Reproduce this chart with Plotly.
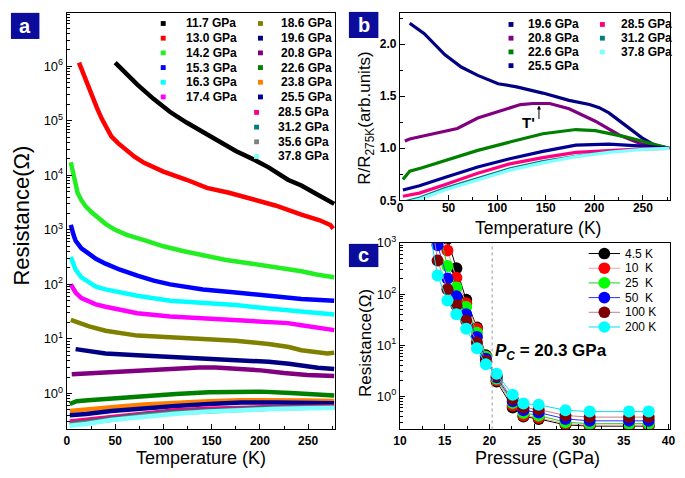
import plotly.graph_objects as go

W, H = 685, 478
FONT = "Liberation Sans"

# ---------------- panel a : R(T) at each pressure (Ohm) ----------------
t_117 = [50, 60, 73, 90, 107, 124, 145, 159, 175, 195, 209, 229, 243, 260, 277]
r_117 = [1.17e6, 7.8e5, 4.6e5, 2.5e5, 1.45e5, 9.3e4, 5.6e4, 4.2e4, 2.8e4, 1.9e4, 1.4e4, 8.3e3, 6.5e3, 4.4e3, 3.0e3]
t_130 = [12.5, 15, 17.6, 21, 26, 31, 36, 41, 46, 53, 60, 70, 80, 100, 124, 145, 168, 192, 216, 243, 262, 273, 276]
r_130 = [1.17e6, 9.0e5, 7.3e5, 4.6e5, 2.8e5, 1.75e5, 1.1e5, 7.4e4, 5.2e4, 3.9e4, 3.0e4, 2.2e4, 1.7e4,
         1.17e4, 8.3e3, 5.9e3, 4.8e3, 3.7e3, 2.8e3, 1.9e3, 1.5e3, 1.23e3, 1.05e3]
t_142 = [4, 5.5, 7.5, 9, 11, 15, 19, 25, 33, 40, 50, 62, 80, 100, 120, 141, 165, 192, 215, 243, 260, 277]
r_142 = [1.74e4, 1.26e4, 9.5e3, 6.6e3, 4.8e3, 3.5e3, 2.75e3, 2.15e3, 1.62e3, 1.29e3, 1.0e3, 810, 650,
         500, 410, 340, 280, 240, 210, 174, 150, 135]
t_153 = [4, 5, 7, 9, 15, 23, 30, 40, 55, 73, 90, 107, 141, 175, 209, 243, 277]
r_153 = [1230, 1000, 794, 631, 457, 363, 295, 240, 186, 145, 117, 100, 81, 71, 62, 54, 50]
t_163 = [4, 6, 9, 15, 23, 30, 40, 55, 73, 107, 141, 175, 209, 243, 277]
r_163 = [316, 240, 186, 135, 107, 91, 81, 71, 62, 50, 45, 42, 36, 32, 28]
t_174 = [4, 6, 9, 15, 23, 30, 40, 55, 73, 107, 141, 175, 209, 229, 243, 260, 277]
r_174 = [100, 85, 71, 56, 48, 43, 39, 34, 29.5, 25.7, 24, 22.4, 20.9, 19.5, 17.8, 16.2, 14.5]
t_186 = [4, 10, 23, 40, 55, 73, 107, 141, 175, 209, 230, 243, 260, 270, 277]
r_186 = [22.4, 20.4, 17.0, 14.1, 12.6, 11.5, 10.7, 10.0, 9.3, 8.1, 7.1, 6.2, 5.6, 5.4, 5.6]
t_196 = [9, 40, 73, 107, 141, 175, 209, 230, 243, 260, 277]
r_196 = [6.5, 5.4, 5.0, 4.7, 4.5, 4.2, 3.8, 3.5, 3.2, 2.95, 2.8]
t_208 = [5, 25, 59, 80, 103, 124, 137, 154, 174, 201, 225, 249, 277]
r_208 = [2.25, 2.35, 2.5, 2.71, 2.86, 2.98, 3.0, 3.0, 2.9, 2.65, 2.37, 2.18, 2.1]
t_226 = [3, 10, 22, 46, 80, 113, 147, 181, 201, 232, 262, 277]
r_226 = [0.64, 0.72, 0.75, 0.81, 0.90, 0.975, 1.05, 1.085, 1.08, 1.02, 0.96, 0.92]
t_low = [3, 20, 46, 80, 113, 147, 181, 215, 250, 277]
r_238 = [0.475, 0.50, 0.56, 0.63, 0.68, 0.72, 0.75, 0.76, 0.745, 0.73]
r_255 = [0.40, 0.42, 0.475, 0.54, 0.59, 0.64, 0.68, 0.685, 0.67, 0.66]
r_285 = [0.305, 0.33, 0.375, 0.44, 0.49, 0.525, 0.55, 0.565, 0.57, 0.575]
r_312 = [0.275, 0.30, 0.35, 0.405, 0.455, 0.49, 0.52, 0.545, 0.555, 0.56]
r_356 = [0.265, 0.29, 0.335, 0.39, 0.44, 0.475, 0.51, 0.53, 0.545, 0.55]
r_378 = [0.255, 0.275, 0.325, 0.38, 0.425, 0.465, 0.495, 0.52, 0.535, 0.54]

a_series = [
    ("11.7 GPa", "#000000", t_117, r_117),
    ("13.0 GPa", "#ff0000", t_130, r_130),
    ("14.2 GPa", "#22ee22", t_142, r_142),
    ("15.3 GPa", "#0000ff", t_153, r_153),
    ("16.3 GPa", "#00ffff", t_163, r_163),
    ("17.4 GPa", "#ff00ff", t_174, r_174),
    ("18.6 GPa", "#808000", t_186, r_186),
    ("19.6 GPa", "#000080", t_196, r_196),
    ("20.8 GPa", "#800080", t_208, r_208),
    ("22.6 GPa", "#008000", t_226, r_226),
    ("23.8 GPa", "#ff8000", t_low, r_238),
    ("25.5 GPa", "#000090", t_low, r_255),
    ("28.5 GPa", "#ff0080", t_low, r_285),
    ("31.2 GPa", "#008080", t_low, r_312),
    ("35.6 GPa", "#808080", t_low, r_356),
    ("37.8 GPa", "#80ffff", t_low, r_378),
]

# ---------------- panel b : R / R(275 K) ----------------
tb_196 = [10, 25, 46, 63, 80, 101, 120, 147, 174, 195, 205, 215, 232, 249, 262, 277]
nb_196 = [2.2, 2.1, 1.9, 1.78, 1.70, 1.62, 1.59, 1.53, 1.46, 1.42, 1.39, 1.34, 1.22, 1.10, 1.03, 1.0]
tb_208 = [5, 10, 25, 45, 59, 80, 103, 124, 137, 154, 174, 201, 225, 249, 265, 277]
nb_208 = [1.07, 1.09, 1.12, 1.16, 1.19, 1.29, 1.36, 1.42, 1.43, 1.43, 1.38, 1.26, 1.13, 1.04, 1.01, 1.0]
tb_226 = [3, 10, 22, 46, 80, 113, 147, 181, 201, 232, 262, 277]
nb_226 = [0.70, 0.78, 0.81, 0.88, 0.98, 1.06, 1.14, 1.18, 1.17, 1.11, 1.04, 1.0]
tb_low = [3, 20, 46, 80, 113, 147, 181, 215, 250, 277]
nb_255 = [0.60, 0.64, 0.72, 0.82, 0.90, 0.97, 1.03, 1.04, 1.02, 1.0]
nb_285 = [0.54, 0.57, 0.65, 0.76, 0.85, 0.91, 0.96, 0.98, 0.995, 1.0]
nb_312 = [0.49, 0.53, 0.62, 0.72, 0.81, 0.88, 0.93, 0.97, 0.99, 1.0]
nb_378 = [0.47, 0.51, 0.60, 0.70, 0.79, 0.86, 0.92, 0.96, 0.99, 1.0]

b_series = [
    ("19.6 GPa", "#000080", tb_196, nb_196),
    ("20.8 GPa", "#800080", tb_208, nb_208),
    ("22.6 GPa", "#008000", tb_226, nb_226),
    ("25.5 GPa", "#000090", tb_low, nb_255),
    ("28.5 GPa", "#ff0080", tb_low, nb_285),
    ("31.2 GPa", "#008080", tb_low, nb_312),
    ("37.8 GPa", "#80ffff", tb_low, nb_378),
]

# ---------------- panel c : R(P) at fixed temperatures ----------------
pressure = [11.7, 13.0, 14.2, 15.3, 16.3, 17.4, 18.6, 19.6, 20.8, 22.6, 23.8, 25.5, 28.5, 31.2, 35.6, 37.8]
rc_4k = [None, None, 1.7e4, 1.2e3, 320, 77, 22, 6.3, 1.95, 0.60, 0.40, 0.36, 0.275, 0.26, 0.26, 0.26]
rc_10k = [None, None, 5.5e3, 710, 207, 66, 21, 6.0, 2.05, 0.66, 0.42, 0.38, 0.29, 0.27, 0.27, 0.27]
rc_25k = [None, 2.9e5, 2.1e3, 355, 134, 56, 17.5, 5.9, 2.2, 0.74, 0.47, 0.42, 0.31, 0.29, 0.29, 0.29]
rc_50k = [1.2e6, 5.3e4, 900, 200, 90, 40, 14.4, 5.4, 2.35, 0.80, 0.53, 0.48, 0.36, 0.33, 0.33, 0.33]
rc_100k = [1.3e5, 1.15e4, 450, 124, 60, 30, 11.3, 4.9, 2.5, 0.88, 0.60, 0.55, 0.42, 0.39, 0.39, 0.39]
rc_200k = [1.8e4, 3.5e3, 230, 75, 40, 21, 8.7, 4.2, 2.75, 1.07, 0.72, 0.68, 0.53, 0.50, 0.50, 0.50]
p_critical = 20.3

c_series = [
    ("4.5 K", "#000000", "#000000", rc_4k),
    ("10\u00a0\u00a0K", "#ff0000", "#f4a0a0", rc_10k),
    ("25\u00a0\u00a0K", "#00ff00", "#22cc22", rc_25k),
    ("50\u00a0\u00a0K", "#0000ff", "#3030ff", rc_50k),
    ("100 K", "#800000", "#c08090", rc_100k),
    ("200 K", "#00ffff", "#00e0f0", rc_200k),
]


def px(x):
    return x / W


def py(y):
    return 1 - y / H


fig = go.Figure()

for name, col, t, r in a_series:
    fig.add_trace(go.Scatter(x=t, y=r, mode="lines", line=dict(color=col, width=4.5),
                             xaxis="x", yaxis="y", name=name))

for name, col, t, r in b_series:
    w = 1.6 if name == "31.2 GPa" else 3.2
    fig.add_trace(go.Scatter(x=t, y=r, mode="lines", line=dict(color=col, width=w),
                             xaxis="x2", yaxis="y2", name=name))

for name, mcol, lcol, r in c_series:
    fig.add_trace(go.Scatter(x=pressure, y=r, mode="lines+markers",
                             line=dict(color=lcol, width=1),
                             marker=dict(color=mcol, size=12, line=dict(width=0)),
                             xaxis="x3", yaxis="y3", name=name))

tick_bold = dict(family=FONT, size=12, color="black", weight="bold")
tick_pow = dict(family=FONT, size=13, color="black")
ax_common = dict(showline=True, linecolor="black", linewidth=1.3, mirror=True,
                 ticks="inside", ticklen=5, tickwidth=1.2, tickcolor="black",
                 showgrid=False, zeroline=False)

decades_a = [1, 10, 100, 1e3, 1e4, 1e5, 1e6]
decades_c = [1, 10, 100, 1e3]

fig.update_layout(
    width=W, height=H, margin=dict(l=0, r=0, t=0, b=0),
    paper_bgcolor="white", plot_bgcolor="white", showlegend=False,
    xaxis=dict(domain=[px(61), px(334)], range=[0, 278], anchor="y",
               tickvals=[0, 50, 100, 150, 200, 250], tickfont=tick_bold,
               minor=dict(dtick=25, ticks="inside", ticklen=3, tickcolor="black"), **ax_common),
    yaxis=dict(domain=[py(435), py(4)], type="log", range=[-0.66, 6.98], anchor="x",
               tickvals=decades_a, ticktext=["10<sup>%d</sup>" % i for i in range(7)],
               tickfont=tick_pow,
               minor=dict(dtick="D1", ticks="inside", ticklen=3, tickcolor="black"), **ax_common),
    xaxis2=dict(domain=[px(400), px(675)], range=[0, 278], anchor="y2",
                tickvals=[0, 50, 100, 150, 200, 250], tickfont=tick_bold, ticklabelstandoff=-4,
                minor=dict(dtick=25, ticks="inside", ticklen=3, tickcolor="black"), **ax_common),
    yaxis2=dict(domain=[py(198), py(4)], range=[0.5, 2.3], anchor="x2",
                tickvals=[0.5, 1.0, 1.5, 2.0], ticktext=["0.5", "1.0", "1.5", "2.0"],
                tickfont=tick_bold,
                minor=dict(dtick=0.25, ticks="inside", ticklen=3, tickcolor="black"), **ax_common),
    xaxis3=dict(domain=[px(400), px(675)], range=[10, 40.2], anchor="y3",
                tickvals=[10, 15, 20, 25, 30, 35, 40], tickfont=tick_bold,
                minor=dict(dtick=2.5, ticks="inside", ticklen=3, tickcolor="black"), **ax_common),
    yaxis3=dict(domain=[py(435), py(242)], type="log", range=[-0.65, 3.0], anchor="x3",
                tickvals=decades_c, ticktext=["10<sup>%d</sup>" % i for i in range(4)],
                tickfont=tick_pow,
                minor=dict(dtick="D1", ticks="inside", ticklen=3, tickcolor="black"), **ax_common),
)

shapes = []
ann = []

# panel letters
for letter, (x0, y0, x1, y1) in zip("abc", [(4, 4, 33, 31), (348, 3, 378, 30), (348, 243, 378, 267)]):
    shapes.append(dict(type="rect", xref="paper", yref="paper", x0=px(x0), x1=px(x1),
                       y0=py(y1), y1=py(y0), fillcolor="#0c0c9c", line=dict(width=0), layer="above"))
    ann.append(dict(text="<b>%s</b>" % letter, xref="paper", yref="paper", x=px((x0 + x1) / 2),
                    y=py((y0 + y1) / 2), xanchor="center", yanchor="middle", showarrow=False,
                    font=dict(family=FONT, size=20, color="white")))

# axis titles
titles = [
    ("Resistance(\u03a9)", 15, 214, -90, 22),
    ("Temperature (K)", 197, 465, 0, 18),
    ("R/R<sub>275K</sub>(arb.units)", 366, 113, -90, 17),
    ("Temperature (K)", 540, 227, 0, 17.5),
    ("Resistance(\u03a9)", 365, 346, -90, 17),
    ("Pressure (GPa)", 540, 465, 0, 18),
]
for txt, x, y, ang, sz in titles:
    ann.append(dict(text=txt, xref="paper", yref="paper", x=px(x), y=py(y), textangle=ang,
                    xanchor="center", yanchor="middle", showarrow=False,
                    font=dict(family=FONT, size=sz, color="black")))

# legend panel a (three blocks)
leg_font = dict(family=FONT, size=12, color="black", weight="bold")
a_blocks = [(a_series[0:6], 159, 180, 15), (a_series[6:12], 258, 277, 15), (a_series[12:16], 254, 274, 107)]
for block, xs, xt, y0 in a_blocks:
    for i, (name, col, _, _) in enumerate(block):
        y = y0 + 15.2 * i
        shapes.append(dict(type="rect", xref="paper", yref="paper", x0=px(xs - 2.5), x1=px(xs + 2.5),
                           y0=py(y + 2.5), y1=py(y - 2.5), fillcolor=col, line=dict(width=0)))
        ann.append(dict(text=name, xref="paper", yref="paper", x=px(xt), y=py(y), xanchor="left",
                        yanchor="middle", showarrow=False, font=leg_font))

# legend panel b
b_blocks = [(b_series[0:4], 513, 528, 16), (b_series[4:7], 606, 623, 16)]
for block, xs, xt, y0 in b_blocks:
    for i, (name, col, _, _) in enumerate(block):
        y = y0 + 14.2 * i
        shapes.append(dict(type="rect", xref="paper", yref="paper", x0=px(xs - 2.5), x1=px(xs + 2.5),
                           y0=py(y + 2.5), y1=py(y - 2.5), fillcolor=col, line=dict(width=0)))
        ann.append(dict(text=name, xref="paper", yref="paper", x=px(xt), y=py(y), xanchor="left",
                        yanchor="middle", showarrow=False, font=leg_font))

# legend panel c
for i, (name, mcol, lcol, _) in enumerate(c_series):
    y = 253 + 15.2 * i
    shapes.append(dict(type="line", xref="paper", yref="paper", x0=px(592), x1=px(624),
                       y0=py(y), y1=py(y), line=dict(color=lcol, width=1)))
    shapes.append(dict(type="circle", xref="paper", yref="paper", x0=px(602), x1=px(614),
                       y0=py(y + 6), y1=py(y - 6), fillcolor=mcol, line=dict(width=0)))
    ann.append(dict(text=name, xref="paper", yref="paper", x=px(627), y=py(y), xanchor="left",
                    yanchor="middle", showarrow=False, font=dict(family=FONT, size=12, color="black")))

# T' marker in panel b
ann.append(dict(text="", xref="x2", yref="y2", x=143, y=1.41, ax=0, ay=15, showarrow=True,
                arrowhead=2, arrowsize=0.8, arrowwidth=1, arrowcolor="black"))
ann.append(dict(text="<b>T'</b>", xref="x2", yref="y2", x=132, y=1.25, xanchor="center",
                yanchor="middle", showarrow=False, font=dict(family=FONT, size=15, color="black")))

# critical pressure in panel c
shapes.append(dict(type="line", xref="x3", yref="y3 domain", x0=p_critical, x1=p_critical, y0=0, y1=1,
                   line=dict(color="#999999", width=1, dash="dot")))
ann.append(dict(text="<b><i>P</i><sub><i>C</i></sub> = %.1f GPa</b>" % p_critical, xref="x3", yref="y3",
                x=26.9, y=0.87, xanchor="center", yanchor="middle", showarrow=False,
                font=dict(family=FONT, size=17, color="black")))

fig.update_layout(shapes=shapes, annotations=ann)
# the page body has a default margin; remove it so the figure sits at the window origin
fig.write_html("out.html", config={"displayModeBar": False},
               post_script="document.body.style.margin='0px';")
